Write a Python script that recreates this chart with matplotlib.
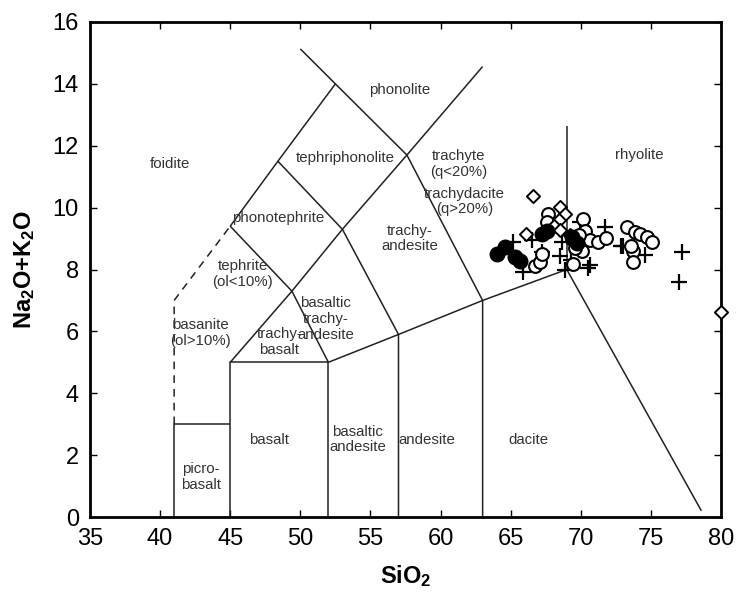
import matplotlib
matplotlib.use("Agg")
import matplotlib.pyplot as plt

plt.rcParams['font.family'] = ['Liberation Sans', 'DejaVu Sans']
plt.rcParams['mathtext.fontset'] = 'custom'
plt.rcParams['mathtext.rm'] = 'Liberation Sans'
plt.rcParams['mathtext.bf'] = 'Liberation Sans:bold'

# ---- data (SiO2, Na2O+K2O) ----
filled_sio2 = [64.05, 64.6, 65.31, 65.67, 67.2, 67.57, 69.4, 69.7]
filled_alk = [8.5, 8.72, 8.4, 8.29, 9.15, 9.26, 9.05, 8.85]

open_sio2 = [67.69, 67.57, 66.74, 67.1, 67.2, 70.19, 70.31, 70.66, 71.26, 71.8,
             70.07, 69.47, 69.36, 69.9, 73.27, 73.87, 74.23, 74.7, 75.06, 73.75,
             73.75, 73.6, 69.6]
open_alk = [9.80, 9.53, 8.10, 8.24, 8.5, 9.64, 9.26, 8.94, 8.88, 9.02,
            8.61, 8.18, 8.99, 9.1, 9.36, 9.2, 9.15, 9.04, 8.88, 8.61,
            8.24, 8.77, 8.7]

diam_sio2 = [66.62, 68.52, 68.88, 68.47, 68.1, 68.52, 66.1, 80.0, 69.2]
diam_alk = [10.39, 10.03, 9.8, 9.6, 9.42, 9.28, 9.15, 6.62, 9.1]

plus_sio2 = [65.19, 65.9, 66.5, 67.2, 68.52, 68.64, 68.88, 70.54, 71.73, 69.95,
             73.03, 74.6, 77.2, 77.0, 72.9, 69.3, 70.66]
plus_alk = [8.88, 7.91, 8.94, 8.56, 8.45, 8.88, 7.97, 8.05, 9.36, 9.53,
            8.77, 8.48, 8.56, 7.59, 8.77, 8.3, 8.13]

# ---- TAS field boundaries ----
solid_lines = [
    [(41, 0), (41, 3), (45, 3)],
    [(45, 0), (45, 5), (52, 5), (52, 0)],
    [(52, 5), (57, 5.9), (57, 0)],
    [(57, 5.9), (63, 7), (63, 0)],
    [(63, 7), (69, 8), (78.6, 0.2)],
    [(69, 8), (69, 12.65)],
    [(45, 5), (49.4, 7.3), (52, 5)],
    [(49.4, 7.3), (53, 9.3), (57, 5.9)],
    [(53, 9.3), (57.6, 11.7), (63, 7)],
    [(45, 9.4), (49.4, 7.3)],
    [(45, 9.4), (48.4, 11.5), (52.5, 14), (57.6, 11.7)],
    [(48.4, 11.5), (53, 9.3)],
    [(50, 15.13), (52.5, 14)],
    [(57.6, 11.7), (63, 14.56)],
]
dashed_lines = [[(41, 3), (41, 7), (45, 9.4)]]

labels = [
    ("foidite", 40.7, 11.4),
    ("phonolite", 57.1, 13.8),
    ("tephriphonolite", 53.2, 11.6),
    ("trachyte\n(q<20%)", 61.3, 11.4),
    ("trachydacite\n(q>20%)", 61.7, 10.2),
    ("rhyolite", 74.2, 11.7),
    ("phonotephrite", 48.4, 9.65),
    ("tephrite\n(ol<10%)", 45.9, 7.85),
    ("basanite\n(ol>10%)", 42.9, 5.95),
    ("trachy-\nandesite", 57.8, 9.0),
    ("basaltic\ntrachy-\nandesite", 51.8, 6.4),
    ("trachy-\nbasalt", 48.5, 5.65),
    ("basalt", 47.8, 2.5),
    ("basaltic\nandesite", 54.1, 2.5),
    ("andesite", 59.0, 2.5),
    ("dacite", 66.3, 2.5),
    ("picro-\nbasalt", 42.9, 1.3),
]

fig = plt.figure(figsize=(7.37, 5.92), dpi=100)
ax = fig.add_axes([90/737, 1-517/592, (721-90)/737, (517-22)/592])

for seg in solid_lines:
    xs, ys = zip(*seg)
    ax.plot(xs, ys, color='#222222', lw=1.1, solid_capstyle='butt')
for seg in dashed_lines:
    xs, ys = zip(*seg)
    ax.plot(xs, ys, color='#222222', lw=1.1, linestyle=(0, (5, 4)))

for txt, x, y in labels:
    ax.text(x, y, txt, ha='center', va='center', fontsize=10.8,
            color='#333333', linespacing=1.15)

ax.scatter(plus_sio2, plus_alk, marker='+', s=130, color='black', linewidths=1.6, zorder=3)
ax.scatter(open_sio2, open_alk, marker='o', s=85, facecolors='white', edgecolors='black', linewidths=1.5, zorder=4)
ax.scatter(diam_sio2, diam_alk, marker='D', s=45, facecolors='white', edgecolors='black', linewidths=1.4, zorder=4, clip_on=False)
ax.scatter(filled_sio2, filled_alk, marker='o', s=110, color='black', zorder=5)

ax.set_xlim(35, 80)
ax.set_ylim(0, 16)
ax.set_xticks(range(35, 81, 5))
ax.set_yticks(range(0, 17, 2))
ax.tick_params(direction='in', length=5, width=1, top=True, right=True,
               labelsize=17)
ax.tick_params(axis='x', pad=8)
ax.tick_params(axis='y', pad=8)
for sp in ax.spines.values():
    sp.set_linewidth(2)

ax.set_xlabel(r'$\mathbf{SiO_2}$', fontsize=17, labelpad=9)
ax.set_ylabel(r'$\mathbf{Na_2O{+}K_2O}$', fontsize=17, labelpad=11)

fig.savefig('out.png', dpi=100)
